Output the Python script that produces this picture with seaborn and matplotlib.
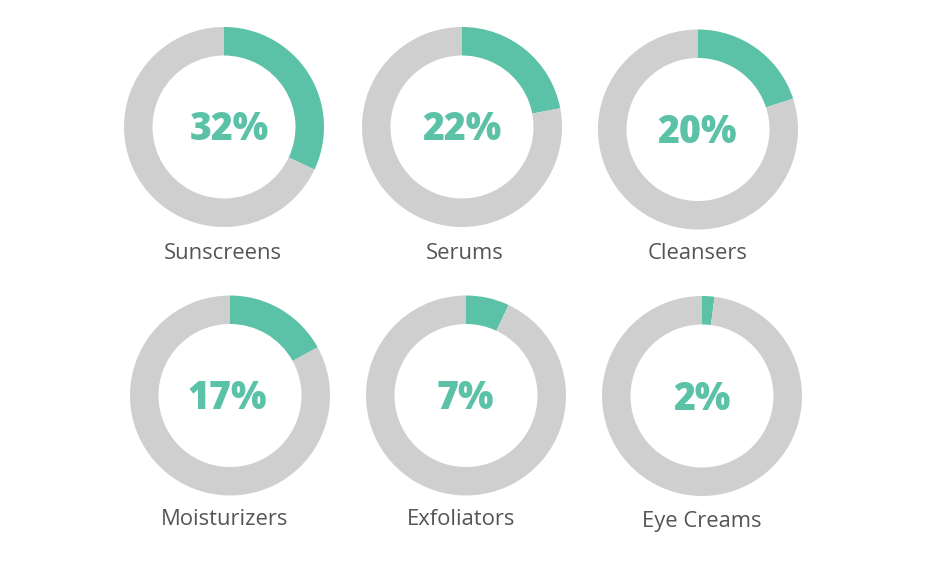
import matplotlib
matplotlib.use("Agg")
import matplotlib.pyplot as plt
import seaborn as sns

# data
categories = ["Sunscreens", "Serums", "Cleansers", "Moisturizers", "Exfoliators", "Eye Creams"]
shares = [32, 22, 20, 17, 7, 2]

# layout in pixels (x, y from top): donut centre, percent-text x shift, label position
centres = [(224, 127), (462, 127), (698, 129.5), (230, 395.5), (466, 395.5), (702, 396)]
pct_dx = [5.5, -0.5, -1, -3, -0.5, -0.5]
label_pos = [(223, 252), (465, 252), (697.5, 252), (224.5, 518), (461.5, 518), (702, 519.5)]

sns.set_theme(style="white")
plt.rcParams["font.family"] = ["Open Sans", "DejaVu Sans"]

GREEN = "#5BC2A7"
GREY = "#D0CFD0"
W, H = 944, 562
R = 100  # outer radius px
RING = 28.5

fig = plt.figure(figsize=(W / 100, H / 100), dpi=100)

for i, (name, pct) in enumerate(zip(categories, shares)):
    cx, cy = centres[i]
    ax = fig.add_axes([(cx - R) / W, 1 - (cy + R) / H, 2 * R / W, 2 * R / H])
    ax.pie([pct, 100 - pct], colors=[GREEN, GREY], startangle=90, counterclock=False,
           radius=1, wedgeprops=dict(width=RING / R, linewidth=0))
    ax.set_xlim(-1, 1)
    ax.set_ylim(-1, 1)
    ax.axis("off")
    fig.text((cx + pct_dx[i]) / W, 1 - (cy - 1.5) / H, f"{pct}%", ha="center",
             va="center_baseline", fontsize=27, fontweight="heavy", color=GREEN)
    lx, ly = label_pos[i]
    fig.text(lx / W, 1 - (ly - 1) / H, name, ha="center", va="center_baseline",
             fontsize=15.8, color="#555555")

fig.savefig("out.png", dpi=100, facecolor="white")
